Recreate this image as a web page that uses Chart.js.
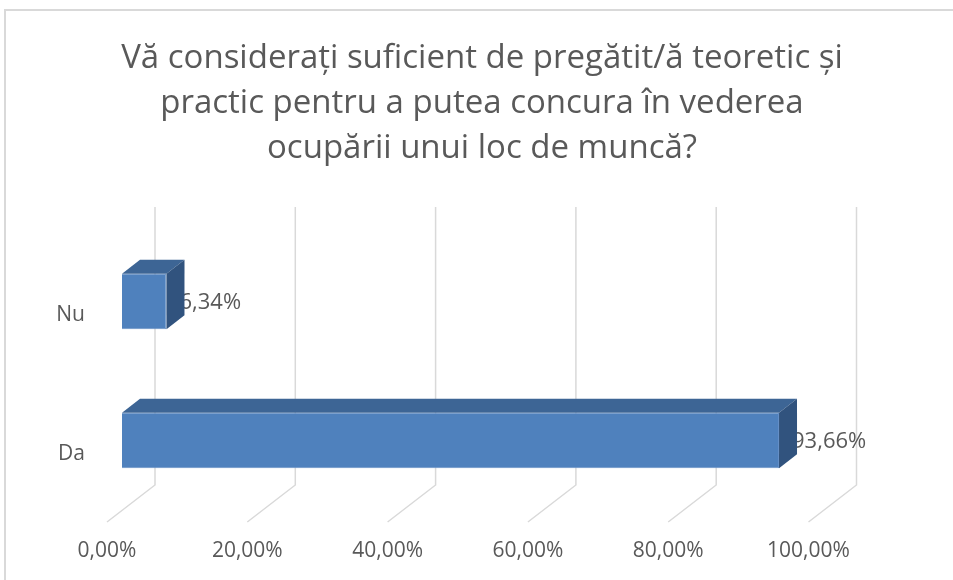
<!DOCTYPE html>
<html>
<head>
<meta charset="utf-8">
<script src="https://cdn.jsdelivr.net/npm/chart.js@4/dist/chart.umd.min.js"></script>
<style>
  html, body { margin: 0; padding: 0; background: #fff; overflow: hidden; }
</style>
</head>
<body>
<canvas id="chart" width="953" height="580"></canvas>
<script>
const titleLines = [
    'Vă considerați suficient de pregătit/ă teoretic și',
    'practic pentru a putea concura în vederea',
    'ocupării unui loc de muncă?'
];
const categories = ['Da', 'Nu'];
const shares = [93.66, 6.34];
const tickValues = [0, 20, 40, 60, 80, 100];

const textGrey = '#595959';
const fmtPct = v => v.toFixed(2).replace('.', ',') + '%';

// fake 3D, offsets measured from the front plane of the bars
const BAR_DEPTH = { dx: 18, dy: -14 };
const WALL = { dx: 33, dy: -25 };
const FLOOR_FRONT = { dx: -15, dy: 12 };

const box3d = {
    id: 'box3d',
    beforeDraw(chart) {
        const ctx = chart.ctx;
        ctx.save();
        ctx.strokeStyle = '#d9d9d9';
        ctx.lineWidth = 2;
        ctx.strokeRect(5, 10, chart.width + 20, chart.height + 20);
        ctx.restore();
    },
    beforeDatasetsDraw(chart) {
        const { ctx, chartArea, scales: { x } } = chart;
        ctx.save();
        ctx.strokeStyle = '#d9d9d9';
        ctx.lineWidth = 1.5;
        x.ticks.forEach(t => {
            const px = x.getPixelForValue(t.value);
            ctx.beginPath();
            ctx.moveTo(px + WALL.dx, chartArea.top + WALL.dy);
            ctx.lineTo(px + WALL.dx, chartArea.bottom + WALL.dy);
            ctx.lineTo(px + FLOOR_FRONT.dx, chartArea.bottom + FLOOR_FRONT.dy);
            ctx.stroke();
        });
        ctx.restore();
    },
    afterDatasetsDraw(chart) {
        const ctx = chart.ctx;
        const bars = chart.getDatasetMeta(0).data;
        const { dx, dy } = BAR_DEPTH;
        ctx.save();
        // value labels
        ctx.font = '22px "Open Sans"';
        ctx.fillStyle = textGrey;
        ctx.textAlign = 'left';
        ctx.textBaseline = 'middle';
        bars.forEach((bar, i) => {
            ctx.fillText(fmtPct(shares[i]), bar.x + 13, bar.y + 1);
        });
        // top and side faces
        bars.forEach(bar => {
            const top = bar.y - bar.height / 2;
            const bottom = bar.y + bar.height / 2;
            ctx.fillStyle = '#3d6595';
            ctx.beginPath();
            ctx.moveTo(bar.base, top);
            ctx.lineTo(bar.x, top);
            ctx.lineTo(bar.x + dx, top + dy);
            ctx.lineTo(bar.base + dx, top + dy);
            ctx.closePath();
            ctx.fill();
            ctx.fillStyle = '#31537e';
            ctx.beginPath();
            ctx.moveTo(bar.x, top);
            ctx.lineTo(bar.x + dx, top + dy);
            ctx.lineTo(bar.x + dx, bottom + dy);
            ctx.lineTo(bar.x, bottom);
            ctx.closePath();
            ctx.fill();
        });
        ctx.restore();
    }
};

Chart.defaults.font.family = '"Open Sans", sans-serif';
Chart.defaults.color = textGrey;

new Chart(document.getElementById('chart'), {
    type: 'bar',
    data: {
        labels: categories,
        datasets: [{
            data: shares,
            backgroundColor: '#4f81bd',
            borderColor: '#6690c6',
            borderWidth: 1,
            barPercentage: 0.4,
            categoryPercentage: 1
        }]
    },
    options: {
        responsive: false,
        animation: false,
        indexAxis: 'y',
        layout: { padding: { left: 11, right: 0, top: 0, bottom: 0 } },
        plugins: {
            legend: { display: false },
            tooltip: { enabled: false },
            title: {
                display: true,
                text: titleLines,
                color: textGrey,
                font: { size: 33, weight: 'normal', lineHeight: '45px' },
                padding: { top: 36, bottom: 61 }
            }
        },
        scales: {
            x: {
                min: 0,
                max: 100,
                afterBuildTicks: s => { s.ticks = tickValues.map(v => ({ value: v })); },
                afterFit: s => { s.height = 70; },
                grid: { display: false, drawTicks: false },
                border: { display: false },
                ticks: {
                    font: { size: 21 },
                    padding: 28,
                    labelOffset: FLOOR_FRONT.dx,
                    callback: v => fmtPct(v)
                }
            },
            y: {
                reverse: true,
                afterFit: s => { s.width = 111; },
                grid: { display: false, drawTicks: false },
                border: { display: false },
                ticks: { font: { size: 21 }, padding: 37, labelOffset: 14 }
            },
            // empty right-hand axis, only reserves the room right of the plot
            side: {
                axis: 'y',
                type: 'linear',
                position: 'right',
                afterFit: s => { s.width = 129.5; },
                grid: { display: false, drawTicks: false },
                border: { display: false },
                ticks: { display: false }
            }
        }
    },
    plugins: [box3d]
});
</script>
</body>
</html>
